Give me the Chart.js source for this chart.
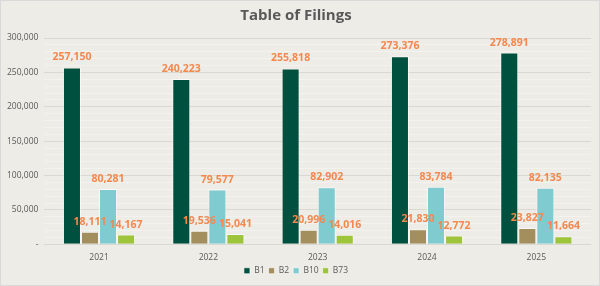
<!DOCTYPE html>
<html>
<head>
<meta charset="utf-8">
<script src="https://cdn.jsdelivr.net/npm/chart.js@4.4.1/dist/chart.umd.min.js"></script>
<style>
  html, body { margin: 0; padding: 0; background: #fff; }
  #wrap { width: 598px; height: 284px; border: 1px solid #d9d9d9; background: #edece6; }
</style>
</head>
<body>
<div id="wrap"><canvas id="chartFilings" width="598" height="284"></canvas></div>
<script>
var years = ['2021', '2022', '2023', '2024', '2025'];
var seriesNames = ['B1', 'B2', 'B10', 'B73'];
var b1 = [257150, 240223, 255818, 273376, 278891];
var b2 = [18111, 19536, 20996, 21830, 23827];
var b10 = [80281, 79577, 82902, 83784, 82135];
var b73 = [14167, 15041, 14016, 12772, 11664];
var colors = ['#00503f', '#a38f5d', '#7fcbcf', '#9dc43a'];

var fmt = function (v) { return v.toLocaleString('en-US'); };

// draws the orange value above each bar
var valueLabels = {
  id: 'valueLabels',
  afterDatasetsDraw: function (chart) {
    var ctx = chart.ctx;
    ctx.save();
    ctx.font = 'bold 10.5px "Open Sans"';
    ctx.fillStyle = '#f4884e';
    ctx.textAlign = 'center';
    ctx.textBaseline = 'middle';
    chart.data.datasets.forEach(function (ds, i) {
      chart.getDatasetMeta(i).data.forEach(function (bar, j) {
        ctx.fillText(fmt(ds.data[j]), bar.x, bar.y - 10);
      });
    });
    ctx.restore();
  }
};

var ctx = document.getElementById('chartFilings');
var chartFilings = new Chart(ctx, {
  type: 'bar',
  data: {
    labels: years,
    datasets: [b1, b2, b10, b73].map(function (d, i) {
      return {
        label: seriesNames[i],
        data: d,
        backgroundColor: colors[i],
        borderColor: 'rgba(255,255,255,0.6)',
        borderWidth: 1,
        barPercentage: 1,
        categoryPercentage: 0.66
      };
    })
  },
  options: {
    responsive: false,
    animation: false,
    layout: { padding: { left: 0, right: 8, top: 0, bottom: 0 } },
    scales: {
      x: {
        grid: { display: false },
        border: { display: false },
        ticks: { color: '#595959', font: { family: 'Open Sans', size: 8.5 }, padding: 0 }
      },
      y: {
        min: 0,
        max: 300000,
        border: { display: false },
        grid: {
          color: function (c) {
            return c.tick && c.tick.value % 50000 === 0 ? '#d9d8d2' : '#f3f2ee';
          },
          drawTicks: false
        },
        ticks: {
          stepSize: 10000,
          autoSkip: false,
          padding: 6,
          color: '#595959',
          font: { family: 'Open Sans', size: 8.5 },
          callback: function (v) {
            if (v === 0) return '-';
            return v % 50000 === 0 ? fmt(v) : '';
          }
        }
      }
    },
    plugins: {
      title: {
        display: true,
        text: 'Table of Filings',
        color: '#595959',
        font: { family: 'Open Sans', size: 15, weight: 'bold' },
        padding: { top: 6, bottom: 13 }
      },
      legend: {
        position: 'bottom',
        labels: {
          boxWidth: 6,
          boxHeight: 6,
          padding: 4,
          color: '#595959',
          font: { family: 'Open Sans', size: 8.5 }
        }
      },
      tooltip: { enabled: false }
    }
  },
  plugins: [valueLabels]
});
</script>
</body>
</html>
